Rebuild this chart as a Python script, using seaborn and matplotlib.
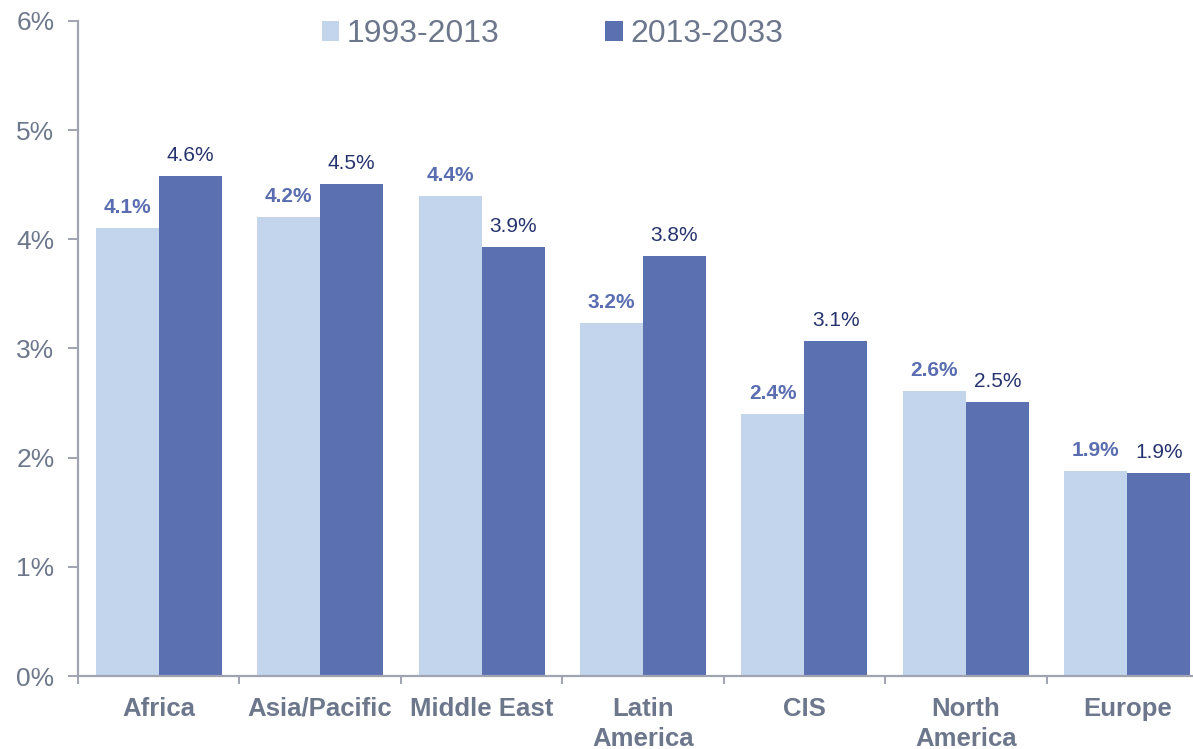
import matplotlib
matplotlib.use("Agg")
import matplotlib.pyplot as plt
import seaborn as sns
import pandas as pd
import numpy as np

regions = ["Africa", "Asia/Pacific", "Middle East", "Latin\nAmerica", "CIS", "North\nAmerica", "Europe"]
series_names = ["1993-2013", "2013-2033"]
growth_1993_2013 = [4.10, 4.20, 4.40, 3.23, 2.40, 2.61, 1.88]
growth_2013_2033 = [4.58, 4.51, 3.93, 3.85, 3.07, 2.51, 1.86]
labels_1993_2013 = ["4.1%", "4.2%", "4.4%", "3.2%", "2.4%", "2.6%", "1.9%"]
labels_2013_2033 = ["4.6%", "4.5%", "3.9%", "3.8%", "3.1%", "2.5%", "1.9%"]
y_ticks = [0, 1, 2, 3, 4, 5, 6]
y_tick_labels = ["0%", "1%", "2%", "3%", "4%", "5%", "6%"]

df = pd.DataFrame({
    "Region": regions * 2,
    "Period": [series_names[0]] * len(regions) + [series_names[1]] * len(regions),
    "Growth": growth_1993_2013 + growth_2013_2033,
})

sns.set_theme(style="white")
plt.rcParams['font.family'] = ['Liberation Sans', 'DejaVu Sans']

LIGHT = "#c3d5ed"
DARK = "#5b70b1"
GRAY = "#6d778c"
AXIS = "#a0a4b0"

W, H = 1193, 749
fig = plt.figure(figsize=(W / 100, H / 100), dpi=100)
ax = fig.add_axes([78 / W, 73 / H, 1130 / W, 655 / H])

sns.barplot(data=df, x="Region", y="Growth", hue="Period", hue_order=series_names,
            palette=[LIGHT, DARK], width=0.78, gap=0, saturation=1, ax=ax,
            linewidth=0, edgecolor="none", legend=True)

ax.set_xlim(-0.5, len(regions) - 0.5)
ax.set_ylim(0, 6)
ax.set_yticks(y_ticks)
ax.set_yticklabels(y_tick_labels)
ax.set_xlabel("")
ax.set_ylabel("")

for s in ["top", "right"]:
    ax.spines[s].set_visible(False)
for s in ["left", "bottom"]:
    ax.spines[s].set_color(AXIS)
    ax.spines[s].set_linewidth(1.6)

ax.tick_params(axis="y", which="major", length=7, width=1.4, color=AXIS, direction="out",
               labelsize=19, labelcolor=GRAY, pad=10, left=True)
ax.tick_params(axis="x", which="major", length=0, labelsize=18.5, labelcolor=GRAY, pad=15)
for t in ax.get_xticklabels():
    t.set_fontweight("bold")
    t.set_linespacing(1.3)
ax.set_xticks(np.arange(-0.5, len(regions), 1.0), minor=True)
ax.tick_params(axis="x", which="minor", length=6, width=1.4, color=AXIS, direction="out", bottom=True)

ax.bar_label(ax.containers[0], labels=labels_1993_2013, padding=8, fontsize=15,
             fontweight="bold", color="#5a6db0")
ax.bar_label(ax.containers[1], labels=labels_2013_2033, padding=8, fontsize=15,
             color="#26336e")

leg = ax.legend(loc="upper center", bbox_to_anchor=(0.42, 1.022), ncol=2,
                frameon=False, fontsize=23, handlelength=0.55, handleheight=0.55,
                handletextpad=0.25, columnspacing=3.3, borderaxespad=0)
for t in leg.get_texts():
    t.set_color(GRAY)

ax.grid(False)
fig.savefig("out.png", dpi=100)
